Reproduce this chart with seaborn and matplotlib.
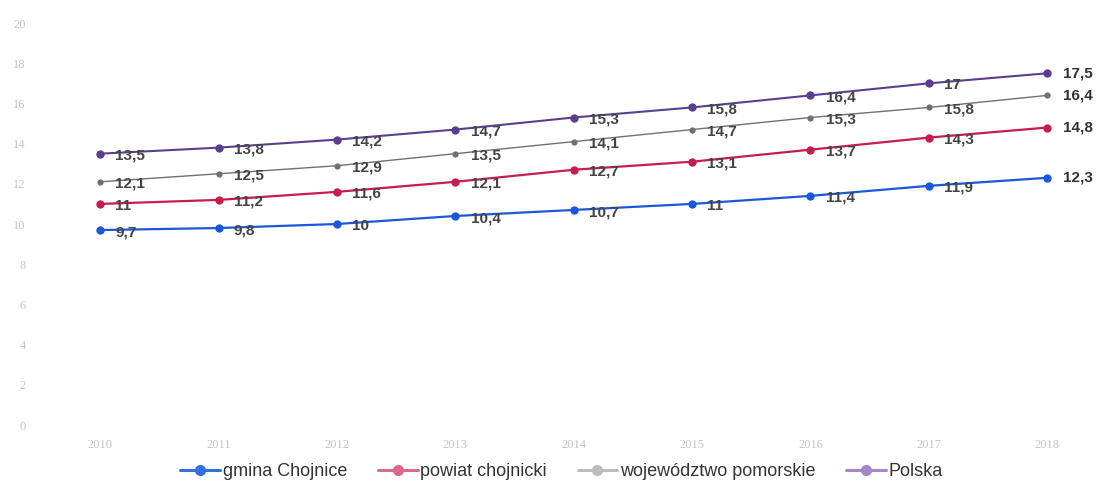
import numpy as np
import pandas as pd
import matplotlib
matplotlib.use("Agg")
import matplotlib.pyplot as plt
from matplotlib.lines import Line2D
import seaborn as sns

years = [2010, 2011, 2012, 2013, 2014, 2015, 2016, 2017, 2018]
gmina = [9.7, 9.8, 10, 10.4, 10.7, 11, 11.4, 11.9, 12.3]
powiat = [11, 11.2, 11.6, 12.1, 12.7, 13.1, 13.7, 14.3, 14.8]
wojewodztwo = [12.1, 12.5, 12.9, 13.5, 14.1, 14.7, 15.3, 15.8, 16.4]
polska = [13.5, 13.8, 14.2, 14.7, 15.3, 15.8, 16.4, 17, 17.5]
series_names = ["gmina Chojnice", "powiat chojnicki", "województwo pomorskie", "Polska"]
y_ticks = [0, 2, 4, 6, 8, 10, 12, 14, 16, 18, 20]

line_colors = ["#1b58d8", "#c41f4c", "#707070", "#5a3f8e"]
legend_colors = ["#3270e0", "#d96a8c", "#bcbcbc", "#a585cc"]
line_widths = [1.6, 1.6, 1.0, 1.5]

df = pd.DataFrame({
    "rok": years * 4,
    "wartosc": gmina + powiat + wojewodztwo + polska,
    "seria": sum([[n] * len(years) for n in series_names], []),
})

sns.set_theme(style="white")
plt.rcParams["font.family"] = ["Liberation Sans", "DejaVu Sans"]

fig = plt.figure(figsize=(10.99, 4.86), dpi=100)
ax = fig.add_axes([0.041, 0.1255, 0.951, 0.8333])

for name, col, lw in zip(series_names, line_colors, line_widths):
    sub = df[df["seria"] == name]
    ms = 4.5 if name == "województwo pomorskie" else 6
    sns.lineplot(data=sub, x="rok", y="wartosc", ax=ax, color=col, lw=lw,
                 marker="o", markersize=ms, markeredgewidth=0, legend=False)
    for i, (x, y) in enumerate(zip(sub["rok"], sub["wartosc"])):
        txt = f"{y:g}".replace(".", ",")
        if i == len(years) - 1:
            ax.annotate(txt, (x, y), xytext=(11, 0), textcoords="offset points",
                        ha="left", va="center", fontsize=11, color="#333333",
                        fontweight="bold")
        else:
            ax.annotate(txt, (x, y), xytext=(11, -1.5), textcoords="offset points",
                        ha="left", va="center", fontsize=11, color="#444444",
                        fontweight="bold")

ax.set_xlim(2009.535, 2018.363)
ax.set_ylim(0, 20.15)
ax.set_xticks(years)
ax.set_xticklabels([str(y) for y in years], fontfamily="Liberation Serif",
                   fontsize=9, color="#c4c4c4")
ax.set_yticks(y_ticks)
ax.set_yticklabels([str(t) for t in y_ticks], fontfamily="Liberation Serif",
                   fontsize=9, color="#c4c4c4")
ax.tick_params(axis="both", length=0, pad=10)
ax.tick_params(axis="y", pad=14)
ax.set_xlabel("")
ax.set_ylabel("")
sns.despine(ax=ax, left=True, bottom=True)

handles = [Line2D([0], [0], color=c, lw=2.2, marker="o", markersize=7)
           for c in legend_colors]
fig.legend(handles, series_names, loc="lower center", ncol=4, frameon=False,
           bbox_to_anchor=(0.511, -0.022), fontsize=13, handlelength=2.2,
           handletextpad=0.15, columnspacing=1.7, labelcolor="#333333")

fig.savefig("out.png", dpi=100)
